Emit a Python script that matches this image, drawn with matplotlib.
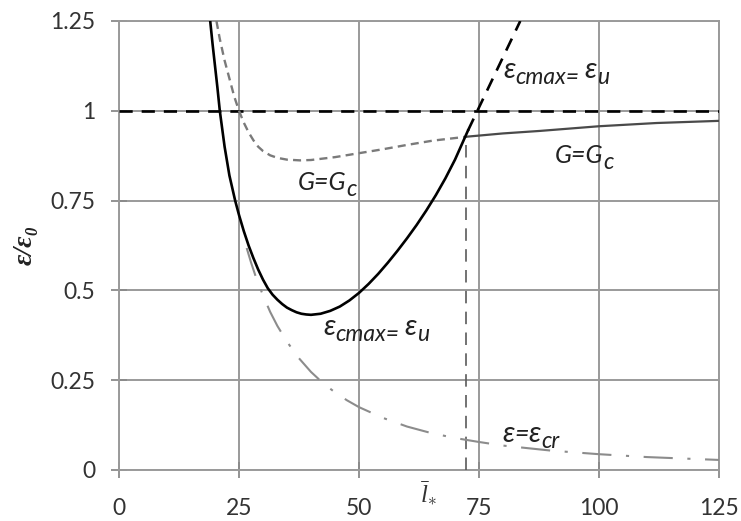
import matplotlib
matplotlib.use("Agg")
import matplotlib.pyplot as plt
import matplotlib.transforms as mtransforms

plt.rcParams['font.family'] = ['Lato', 'Noto Sans', 'DejaVu Sans']
plt.rcParams['mathtext.fontset'] = 'custom'
plt.rcParams['mathtext.rm'] = 'Liberation Serif'
plt.rcParams['mathtext.it'] = 'Liberation Serif:italic'

# Strain ratio curve for eps_cmax = eps_u (solid, black)
l_cmax = [19.0, 19.5, 20.0, 20.5, 21.0, 21.5, 22.0, 23.0, 24.2, 25.0, 26.0,
          27.0, 28.0, 29.0, 30.0, 31.0, 32.0, 33.0, 34.0, 35.0, 36.0, 37.0,
          38.0, 39.0, 40.0, 42.0, 44.0, 46.0, 48.0, 50.0, 52.0, 54.0, 56.0,
          58.0, 60.0, 62.0, 64.0, 66.0, 68.0, 70.0, 72.7]
e_cmax = [1.25, 1.185, 1.125, 1.065, 1.0, 0.95, 0.9, 0.82, 0.75, 0.71, 0.665,
          0.625, 0.59, 0.558, 0.53, 0.506, 0.488, 0.474, 0.462, 0.452, 0.445,
          0.439, 0.435, 0.433, 0.432, 0.435, 0.443, 0.455, 0.472, 0.493, 0.518,
          0.546, 0.577, 0.61, 0.645, 0.682, 0.722, 0.765, 0.812, 0.864, 0.945]

# Continuation of eps_cmax = eps_u beyond the limit (dashed, black)
l_cmax_ext = [72.7, 83.6]
e_cmax_ext = [0.945, 1.25]

# Curve for G = Gc (dashed gray, then solid)
l_gc = [20.3, 21.0, 22.0, 23.0, 24.0, 25.0, 26.0, 27.0, 28.0, 29.0, 30.0,
        31.5, 33.0, 35.0, 37.7, 40.0, 45.0, 50.0, 55.0, 60.0, 65.4, 72.5]
e_gc = [1.25, 1.2, 1.14, 1.09, 1.04, 1.0, 0.967, 0.94, 0.918, 0.9, 0.888,
        0.876, 0.869, 0.864, 0.862, 0.863, 0.871, 0.882, 0.893, 0.905, 0.917,
        0.928]
l_gc_tail = [72.5, 75.0, 80.0, 87.7, 100.0, 112.0, 125.0]
e_gc_tail = [0.928, 0.931, 0.937, 0.944, 0.957, 0.966, 0.972]

# Critical strain curve eps = eps_cr (dash-dot)
l_cr = [26.6, 27.5, 28.5, 30.0, 31.5, 33.0, 35.0, 37.5, 40.0, 42.5, 45.0,
        47.5, 50.0, 55.0, 60.0, 65.0, 70.0, 75.0, 80.0, 90.0, 100.0, 110.0,
        125.0]
e_cr = [0.618, 0.578, 0.538, 0.486, 0.44, 0.401, 0.357, 0.311, 0.273, 0.242,
        0.216, 0.194, 0.175, 0.145, 0.121, 0.103, 0.089, 0.078, 0.068, 0.054,
        0.044, 0.036, 0.028]

# Reference level and optimum length
e_limit = 1.0
l_opt = 72.3
e_opt = 0.93

x_ticks = [0, 25, 50, 75, 100, 125]
y_ticks = [0, 0.25, 0.5, 0.75, 1.0, 1.25]
y_tick_labels = ['0', '0.25', '0.5', '0.75', '1', '1.25']

fig = plt.figure(figsize=(7.41, 5.21), dpi=100)
ax = fig.add_axes([119 / 741, 51 / 521, 600 / 741, 449 / 521])

grid_c = '#9a9a9a'
ax.set_xlim(0, 125)
ax.set_ylim(0, 1.25)
ax.set_xticks(x_ticks)
ax.set_yticks(y_ticks)
ax.set_yticklabels(y_tick_labels)
ax.grid(True, color=grid_c, linewidth=1.4)
ax.set_axisbelow(True)
for s in ax.spines.values():
    s.set_color(grid_c)
    s.set_linewidth(1.4)
ax.tick_params(direction='inout', length=12, width=1.3, color='#8a8a8a',
               labelsize=16.5, labelcolor='#333333')
ax.tick_params(axis='y', pad=11)
ax.tick_params(axis='x', pad=14)

# horizontal limit
ax.plot([0, 125], [e_limit, e_limit], color='black', lw=1.9,
        dashes=(5.0, 3.4), zorder=3)
# vertical line at optimum length
ax.plot([l_opt, l_opt], [0, e_opt], color='#5a5a5a', lw=1.2,
        dashes=(7.5, 5.0), zorder=3)
# critical strain curve
ax.plot(l_cr, e_cr, color='#8c8c8c', lw=1.5,
        dashes=(14, 7, 1.5, 7), zorder=3)
# G = Gc curve
ax.plot(l_gc, e_gc, color='#7a7a7a', lw=1.7, dashes=(3.4, 2.2), zorder=3)
ax.plot(l_gc_tail, e_gc_tail, color='#4a4a4a', lw=1.6, zorder=3)
# eps_cmax = eps_u curve
ax.plot(l_cmax, e_cmax, color='black', lw=1.9, zorder=4)
ax.plot(l_cmax_ext, e_cmax_ext, color='black', lw=1.9,
        dashes=(5.0, 3.4), zorder=4)

# curve labels, built piece by piece so subscripts keep a readable size
renderer = fig.canvas.get_renderer()
tc = '#222222'
sizes = {'eps': 21, 'main': 18, 'sub': 16.5}
sub_dy = -4.5


def rich_label(x, y, parts):
    x_off = 0.0
    for txt, kind in parts:
        tr = mtransforms.offset_copy(ax.transData, fig=fig, x=x_off,
                                     y=sub_dy if kind == 'sub' else 0.0,
                                     units='points')
        t = ax.text(x, y, txt, transform=tr, fontsize=sizes[kind],
                    style='italic', color=tc, ha='left', va='baseline',
                    zorder=5)
        x_off += t.get_window_extent(renderer).width * 72.0 / fig.dpi


eps_u_parts = [('ε', 'eps'), ('cmax=', 'sub'), (' ', 'sub'), ('ε', 'eps'),
               ('u', 'sub')]
rich_label(80.0, 1.091, eps_u_parts)
rich_label(90.8, 0.855, [('G=G', 'main'), ('c', 'sub')])
rich_label(37.3, 0.78, [('G=G', 'main'), ('c', 'sub')])
rich_label(42.5, 0.376, eps_u_parts)
rich_label(79.8, 0.078, [('ε', 'eps'), ('=', 'main'), ('ε', 'eps'),
                         ('cr', 'sub')])

fig.text(25 / 741, 1 - 245 / 521, 'ε/ε₀', rotation=90, fontsize=20,
         family=['Liberation Serif', 'DejaVu Serif'], style='italic',
         weight='bold', color='#222222', ha='center', va='center')
fig.text(428 / 741, 1 - 493 / 521, r'$\bar{l}_{\ast}$', fontsize=18,
         color='#333333', ha='center', va='center')

fig.savefig('out.png', dpi=100)
